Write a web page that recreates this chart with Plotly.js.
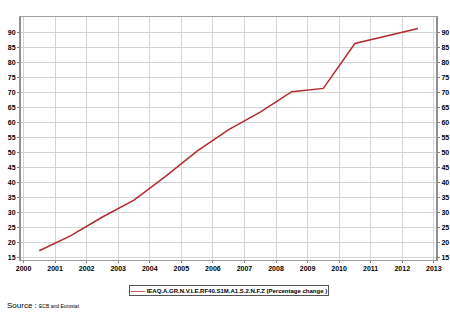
<!DOCTYPE html>
<html>
<head>
<meta charset="utf-8">
<script src="https://cdn.plot.ly/plotly-3.0.1.min.js"></script>
<style>
html,body{margin:0;padding:0;background:#fff;}
#chart{width:450px;height:315px;}
</style>
</head>
<body>
<div id="chart"></div>
<script>
var years = [2000.5, 2001.5, 2002.5, 2003.5, 2004.5, 2005.5, 2006.5, 2007.5, 2008.5, 2009.5, 2010.5, 2011.5, 2012.5];
var values = [17.4, 22.4, 28.6, 34.2, 42.1, 50.5, 57.6, 63.4, 70.2, 71.3, 86.2, 88.7, 91.2];
var xTicks = [2000, 2001, 2002, 2003, 2004, 2005, 2006, 2007, 2008, 2009, 2010, 2011, 2012, 2013];
var yTicks = [15, 20, 25, 30, 35, 40, 45, 50, 55, 60, 65, 70, 75, 80, 85, 90];
var seriesName = "IEAQ.A.GR.N.V.LE.RF40.S1M.A1.S.2.N.F.Z (Percentage change )";
var lineColor = "#b22b2b";

var tickFont = {family: "Liberation Sans, Arial, sans-serif", size: 7, color: "#000", weight: "bold"};
var yRange = [14.33, 95];

var traces = [
  {x: years, y: values, type: "scatter", mode: "lines", name: seriesName,
   line: {color: lineColor, width: 1.5}, hoverinfo: "x+y"},
  {x: years, y: values, type: "scatter", mode: "lines", yaxis: "y2", showlegend: false,
   line: {color: "rgba(0,0,0,0)", width: 0}, hoverinfo: "skip"}
];

var layout = {
  width: 450, height: 315,
  margin: {l: 21, r: 14, t: 17, b: 55, pad: 0, autoexpand: false},
  paper_bgcolor: "#fff", plot_bgcolor: "#fff",
  showlegend: false,
  xaxis: {
    range: [1999.92, 2013.07], tickvals: xTicks, ticktext: xTicks.map(String),
    showgrid: true, gridcolor: "#d4d4d4", gridwidth: 1,
    showline: true, linecolor: "#a0a0a0", linewidth: 1, mirror: true,
    ticks: "outside", ticklen: 2, tickcolor: "#808080",
    tickfont: tickFont, zeroline: false
  },
  yaxis: {
    range: yRange, tickvals: yTicks, ticktext: yTicks.map(String),
    showgrid: true, gridcolor: "#d4d4d4", gridwidth: 1,
    showline: true, linecolor: "#909090", linewidth: 2,
    ticks: "outside", ticklen: 2, tickcolor: "#808080",
    tickfont: tickFont, zeroline: false
  },
  yaxis2: {
    overlaying: "y", side: "right", range: yRange, tickvals: yTicks, ticktext: yTicks.map(String),
    showgrid: false, showline: true, linecolor: "#909090", linewidth: 2,
    ticks: "outside", ticklen: 2, tickcolor: "#808080",
    tickfont: tickFont, zeroline: false
  },
  annotations: [
    {
      xref: "paper", yref: "paper", x: 0.5, y: -0.1255, xanchor: "center", yanchor: "middle",
      showarrow: false, align: "left",
      text: "<span style='color:" + lineColor + ";font-size:7px'>——</span> " + seriesName,
      font: {family: "Liberation Sans, Arial, sans-serif", size: 6, color: "#000", weight: "bold"},
      bgcolor: "#fff", bordercolor: "#555", borderwidth: 1, borderpad: 1
    },
    {
      xref: "paper", yref: "paper", x: -0.0386, y: -0.189, xanchor: "left", yanchor: "middle",
      showarrow: false, align: "left",
      text: "Source : <span style='font-size:5px'>ECB and Eurostat</span>",
      font: {family: "Liberation Sans, Arial, sans-serif", size: 8, color: "#000"}
    }
  ]
};

Plotly.newPlot("chart", traces, layout, {displayModeBar: false, staticPlot: true});
</script>
</body>
</html>
